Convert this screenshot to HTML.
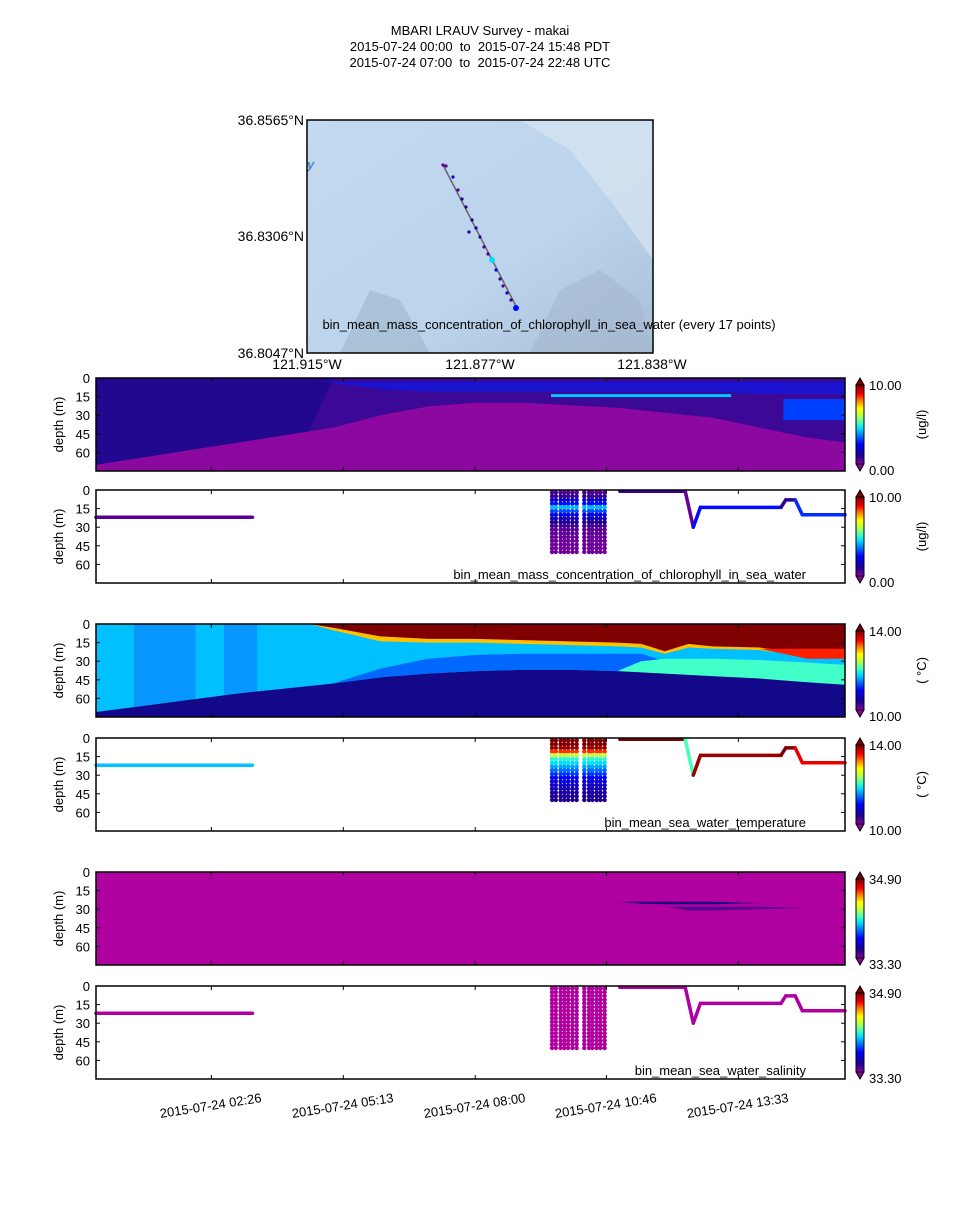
<!DOCTYPE html>
<html><head><meta charset="utf-8">
<style>
body{margin:0;background:#fff;}
svg text{font-family:"Liberation Sans",sans-serif;white-space:pre;}
</style></head>
<body>
<svg id="fig" width="960" height="1200" viewBox="0 0 960 1200" xmlns="http://www.w3.org/2000/svg" xml:space="preserve">
<defs>
<linearGradient id="cbar" x1="0" y1="1" x2="0" y2="0">
<stop offset="0" stop-color="#9000a0"/><stop offset="0.1" stop-color="#200090"/><stop offset="0.25" stop-color="#0000ff"/><stop offset="0.38" stop-color="#0090ff"/><stop offset="0.45" stop-color="#00e0ff"/><stop offset="0.52" stop-color="#40ffc0"/><stop offset="0.62" stop-color="#c0ff40"/><stop offset="0.7" stop-color="#ffff00"/><stop offset="0.8" stop-color="#ff8000"/><stop offset="0.88" stop-color="#ff0000"/><stop offset="1" stop-color="#800000"/>
</linearGradient>
<linearGradient id="mapbg" x1="0" y1="0" x2="1" y2="1">
<stop offset="0" stop-color="#c3d9ef"/><stop offset="0.6" stop-color="#bcd4ec"/><stop offset="1" stop-color="#a9bfd6"/>
</linearGradient>
</defs>
<g font-size="13" text-anchor="middle" fill="#000">
<text x="480" y="35">MBARI LRAUV Survey - makai</text>
<text x="480" y="51">2015-07-24 00:00  to  2015-07-24 15:48 PDT</text>
<text x="480" y="67">2015-07-24 07:00  to  2015-07-24 22:48 UTC</text>
</g>
<g id="map">
<rect x="307" y="120" width="346" height="233" fill="url(#mapbg)"/>
<polygon points="520,120 653,120 653,260 610,200 570,150" fill="#d3e2f0" opacity="0.8"/>
<polygon points="340,353 370,290 400,300 430,353" fill="#9fb5cc" opacity="0.6"/>
<polygon points="530,353 560,290 600,270 640,300 653,353" fill="#a3b8ce" opacity="0.6"/>
<text x="307" y="169" font-size="13" fill="#4a8ac8" font-style="italic" font-weight="bold">y</text>
<line x1="443" y1="165" x2="517" y2="308" stroke="#666" stroke-width="1.5"/>
<rect x="307" y="120" width="346" height="233" fill="none" stroke="#000" stroke-width="1.5"/>
<g font-size="14" fill="#000">
<text x="304" y="125" text-anchor="end">36.8565°N</text>
<text x="304" y="241" text-anchor="end">36.8306°N</text>
<text x="304" y="358" text-anchor="end">36.8047°N</text>
<text x="307" y="369" text-anchor="middle">121.915°W</text>
<text x="480" y="369" text-anchor="middle">121.877°W</text>
<text x="652" y="369" text-anchor="middle">121.838°W</text>
</g>
<text x="549" y="329" font-size="13" text-anchor="middle">bin_mean_mass_concentration_of_chlorophyll_in_sea_water (every 17 points)</text>
</g>
<g id="panels"></g>
<g id="xaxis"></g>
</svg>
<script>
// ---- data ----
const gridT = [0,1,2,3,4,4.5,5,6,7,8,9,10,11,11.5,12,12.5,13,14,15,15.8];
const xTickLabels = ["2015-07-24 02:26","2015-07-24 05:13","2015-07-24 08:00","2015-07-24 10:46","2015-07-24 13:33"];
const xTickHours = [2.433,5.217,8.0,10.767,13.55];
const depthTicks = [0,15,30,45,60];
// chlorophyll contour layers
const chlUpperBottom = [70,64,58,52,46,43,40,30,23,20,20,22,24,26,28,30,32,40,48,52];
const chlLeftBottom  = [70,64,58,52,46,43,0,0,0,0,0,0,0,0,0,0,0,0,0,0];
const chlBandTop     = [0,0,0,0,0,0,3,3,3,3,3,3,3,3,3,3,3,3,3,3];
const chlBandBottom  = [0,0,0,0,0,0,4,9,11,11,11,11,11,11,11,11,11,13,13,13];
// temperature contour layers
const tempDarkTop   = [71,66,61,56,52,50,48,43,40,38,37,37,38,39,40,41,42,44,47,49];
const tempBlueTop   = [71,66,61,56,52,50,48,36,28,25,24,24,24,24,30,32,36,42,46,48];
const tempGreenTop  = [71,66,61,56,52,50,48,43,40,38,37,37,38,30,28,28,28,29,31,33];
const tempRedBottom = [0,0,0,0,0,0,3,10,12,12,13,14,15,16,22,16,18,19,24,22];
const tempYelBottom = [0,0,0,0,0,0,5,14,15,15,16,17,18,19,24,19,20,21,26,24];
const tempBrightRedTop = [0,0,0,0,0,0,0,0,0,0,0,0,0,0,0,0,0,20,20,20];
const tempBrightRedBot = [0,0,0,0,0,0,0,0,0,0,0,0,0,0,0,0,0,20,28,28];
// salinity streaks
const salStreakTop = [0,0,0,0,0,0,0,0,0,0,0,0,24,24,24,24,24,25,26,26];
const salStreakBot = [0,0,0,0,0,0,0,0,0,0,0,0,24,25.5,26,26,26,25,26,26];
const salPurpTop   = [0,0,0,0,0,0,0,0,0,0,0,0,0,0,28,28,28,28,29,29];
const salPurpBot   = [0,0,0,0,0,0,0,0,0,0,0,0,0,0,28,31,31,30,29,29];
// vehicle track (hours, depth) and values
const trackT = [0,3.3,null,11.05,12.43,12.6,12.75,14.45,14.55,14.75,14.9,15.8];
const trackD = [22,22,null,1,1,30,14,14,8,8,20,20];
const trackChl  = [0.5,0.5,null,0.8,0.8,0.4,2.6,2.6,0.9,0.9,2.9,2.9];
const trackTemp = [11.5,11.7,null,14,14,12.1,13.9,13.9,14,14,13.6,13.6];
const trackSal  = [33.2,33.2,null,33.2,33.2,33.2,33.2,33.2,33.2,33.2,33.2,33.2];
// yo-yo profiles
const profT = [9.62,9.7,9.8,9.88,9.96,10.05,10.14,10.3,10.4,10.47,10.56,10.64,10.73];
const profDepth = [2,5,8,11,14,17,20,23,26,29,32,35,38,41,44,47,50];
const profChl  = [0.6,0.8,1.8,2.6,4.2,3.2,2.2,1.5,1.0,0.7,0.5,0.4,0.4,0.3,0.3,0.3,0.3];
const profTemp = [14,14,13.9,13.4,12.5,12,11.8,11.6,11.4,11.2,11.0,10.8,10.7,10.6,10.5,10.4,10.4];
const profSal  = [33.2,33.2,33.2,33.2,33.2,33.2,33.2,33.2,33.2,33.2,33.2,33.2,33.2,33.2,33.2,33.2,33.2];

// ---- layout ----
const X0=96, W=749, H=93, TMAX=15.8, DMAX=75;
const xs = t => X0 + t/TMAX*W;
const ys = (top,d) => top + d/DMAX*H;
const NS="http://www.w3.org/2000/svg";
const stops=[[0,[144,0,160]],[0.1,[32,0,144]],[0.25,[0,0,255]],[0.38,[0,144,255]],[0.45,[0,224,255]],[0.52,[64,255,192]],[0.62,[192,255,64]],[0.7,[255,255,0]],[0.8,[255,128,0]],[0.88,[255,0,0]],[1,[128,0,0]]];
function cmap(v,lo,hi,under){
  let f=(v-lo)/(hi-lo);
  if(f<0) return under||"rgb(144,0,160)";
  if(f>1) f=1;
  for(let i=1;i<stops.length;i++){ if(f<=stops[i][0]){const a=stops[i-1],b=stops[i];const u=(f-a[0])/(b[0]-a[0]);
    const c=a[1].map((q,k)=>Math.round(q+(b[1][k]-q)*u));return `rgb(${c})`;}}
  return "rgb(128,0,0)";
}
function mk(tag,attrs,parent){const e=document.createElementNS(NS,tag);for(const k in attrs)e.setAttribute(k,attrs[k]);parent.appendChild(e);return e;}
const panels=document.getElementById('panels');

function layer(g,top,tops,bots,color,name){
  let pts=[];
  for(let i=0;i<gridT.length;i++)pts.push(xs(gridT[i])+","+ys(top,tops[i]));
  for(let i=gridT.length-1;i>=0;i--)pts.push(xs(gridT[i])+","+ys(top,bots[i]));
  const p=mk('polygon',{points:pts.join(' '),fill:color},g);
  
  
}
const zeros=gridT.map(()=>0), full=gridT.map(()=>DMAX);

function frame(idx){
  const g=mk('g',{},panels);
  
  
  return g;
}
function axes(g,top,lo,hi,unit,label){
  mk('rect',{x:X0,y:top,width:W,height:H,fill:'none',stroke:'#000','stroke-width':1.5},g);
  depthTicks.forEach(d=>{
    const y=ys(top,d);
    mk('line',{x1:X0,x2:X0+4,y1:y,y2:y,stroke:'#000'},g);
    mk('line',{x1:X0+W-4,x2:X0+W,y1:y,y2:y,stroke:'#000'},g);
    const t=mk('text',{x:X0-6,y:y+5,'font-size':13,'text-anchor':'end'},g);t.textContent=d;
    
    
  });
  xTickHours.forEach(h=>{const x=xs(h);
    mk('line',{x1:x,x2:x,y1:top+H,y2:top+H-4,stroke:'#000'},g);
    mk('line',{x1:x,x2:x,y1:top,y2:top+4,stroke:'#000'},g);});
  const yl=mk('text',{x:0,y:0,'font-size':13,'text-anchor':'middle',transform:`translate(63,${top+H/2}) rotate(-90)`},g);
  yl.textContent='depth (m)';
  
  
  const cb=mk('g',{},g);
  
  
  mk('rect',{x:856,y:top+7,width:8,height:H-14,fill:'url(#cbar)',stroke:'#000','stroke-width':1},cb);
  mk('polygon',{points:`856,${top+7} 860,${top} 864,${top+7}`,fill:'#800000',stroke:'#000','stroke-width':1},cb);
  mk('polygon',{points:`856,${top+H-7} 860,${top+H} 864,${top+H-7}`,fill:'#9000a0',stroke:'#000','stroke-width':1},cb);
  const a=mk('text',{x:869,y:top+12,'font-size':13},cb);a.textContent=hi;
  const b=mk('text',{x:869,y:top+H+4,'font-size':13},cb);b.textContent=lo;
  if(unit){const u=mk('text',{x:0,y:0,'font-size':13,'text-anchor':'middle',transform:`translate(926,${top+H/2}) rotate(-90)`},cb);u.textContent=unit;}
  if(label){const l=mk('text',{x:806,y:top+H-4,'font-size':13,'text-anchor':'end'},g);l.textContent=label;
    
    }
}
function scatter(g,top,vals,pvals,lo,hi,under){
  const cg=mk('g',{},g);
  
  
  for(let i=1;i<trackT.length;i++){
    if(trackT[i]===null||trackT[i-1]===null)continue;
    const ln=mk('line',{x1:xs(trackT[i-1]),y1:ys(top,trackD[i-1]),x2:xs(trackT[i]),y2:ys(top,trackD[i]),stroke:cmap(vals[i],lo,hi,under),'stroke-width':3.5,'stroke-linecap':'round'},cg);
    
    
  }
  const pg=mk('g',{},g);
  
  
  profT.forEach(t=>profDepth.forEach((d,j)=>{
    const c=mk('circle',{cx:xs(t),cy:ys(top,d),r:2.2,fill:cmap(pvals[j],lo,hi,under)},pg);
    
    
  }));
}

// Panel 1: chl contour
let g=frame('chl-contour');
mk('rect',{x:X0,y:378,width:W,height:H,fill:'#8c08a0'},g);
layer(g,378,zeros,chlUpperBottom,'#3c0896','chl-upper-layer');
layer(g,378,zeros,chlLeftBottom,'#22088f','chl-left-layer');
layer(g,378,chlBandTop,chlBandBottom,'#1a14d0','chl-blue-band');
mk('rect',{x:xs(9.6),y:ys(378,13),width:xs(13.4)-xs(9.6),height:3,fill:'#00c8ff'},g);
mk('rect',{x:xs(14.5),y:ys(378,17),width:xs(15.8)-xs(14.5),height:ys(378,34)-ys(378,17),fill:'#0040ff'},g);
axes(g,378,'0.00','10.00','(ug/l)',null);
// Panel 2: chl scatter
g=frame('chl-scatter');
scatter(g,490,trackChl,profChl,0,10);
axes(g,490,'0.00','10.00','(ug/l)','bin_mean_mass_concentration_of_chlorophyll_in_sea_water');
// Panel 3: temp contour
g=frame('temp-contour');
mk('rect',{x:X0,y:624,width:W,height:H,fill:'#00c0ff'},g);
mk('rect',{x:xs(0.8),y:624,width:xs(2.1)-xs(0.8),height:H,fill:'#0a8cff',opacity:0.8},g);
mk('rect',{x:xs(2.7),y:624,width:xs(3.4)-xs(2.7),height:H,fill:'#0a8cff',opacity:0.8},g);
layer(g,624,tempBlueTop,full,'#0068ff','temp-blue-layer');
layer(g,624,tempGreenTop,full,'#40ffc8','temp-green-layer');
layer(g,624,tempDarkTop,full,'#14088a','temp-deep-layer');
layer(g,624,zeros,tempYelBottom,'#ffc000','temp-yellow-band');
layer(g,624,zeros,tempRedBottom,'#800000','temp-warm-layer');
layer(g,624,tempBrightRedTop,tempBrightRedBot,'#ff2000','temp-red-patch');
axes(g,624,'10.00','14.00','( °C)',null);
// Panel 4: temp scatter
g=frame('temp-scatter');
scatter(g,738,trackTemp,profTemp,10,14);
axes(g,738,'10.00','14.00','( °C)','bin_mean_sea_water_temperature');
// Panel 5: salinity contour
g=frame('sal-contour');
mk('rect',{x:X0,y:872,width:W,height:H,fill:'#b0009f'},g);
layer(g,872,salStreakTop,salStreakBot,'#1a0080','sal-streak');
layer(g,872,salPurpTop,salPurpBot,'#5a0090','sal-purple-streak');
axes(g,872,'33.30','34.90',null,null);
// Panel 6: salinity scatter
g=frame('sal-scatter');
scatter(g,986,trackSal,profSal,33.3,34.9,'#b0009f');
axes(g,986,'33.30','34.90',null,'bin_mean_sea_water_salinity');

// x tick labels
const xa=document.getElementById('xaxis');
xTickHours.forEach((h,i)=>{
  const t=mk('text',{x:0,y:0,'font-size':13,'text-anchor':'middle',transform:`translate(${xs(h)},1110) rotate(-9)`},xa);
  t.textContent=xTickLabels[i];
  
  
});

// map track dots
const mapDotsX=[443,446,453,458,462,466,469,472,476,480,484,488,492,496,500,503,507,511,516];
const mapDotsY=[165,166,177,190,199,207,232,220,228,237,247,254,260,270,279,286,293,300,308];
const mapDotsV=[0.5,0.5,2,0.6,0.9,0.8,1.5,1,1.2,0.8,0.6,0.6,4.5,2.2,0.7,0.6,1.4,0.8,2.6];
const mg=document.getElementById('map');
mapDotsX.forEach((x,i)=>{
  const c=mk('circle',{cx:x,cy:mapDotsY[i],r:(i==12||i==18)?3:1.6,fill:cmap(mapDotsV[i],0,10)},mg);
  
  
});
</script>
</body></html>
